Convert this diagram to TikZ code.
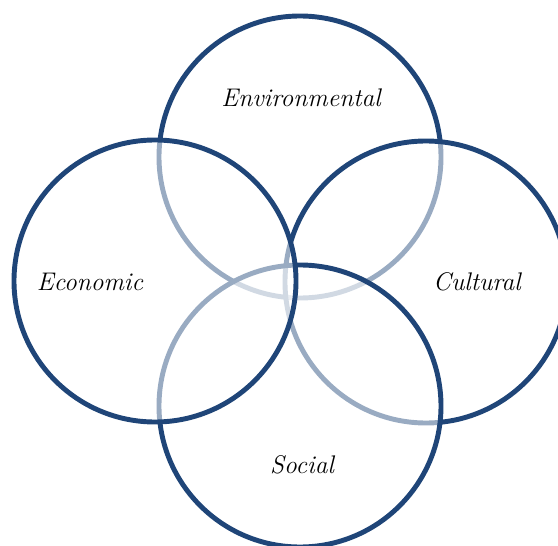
\documentclass[tikz,border=0pt]{standalone}
\usepackage{tikz}
\definecolor{ringblue}{RGB}{31,69,120}
\tikzset{
    ring/.style={
        circle,
        draw=ringblue,
        line width=2.8pt,
        fill=white,
        fill opacity=0.55,
        minimum size=5.64cm,
        inner sep=0pt
    },
    tag/.style={
        anchor=base,
        font=\itshape\fontsize{14.5}{17}\selectfont
    }
}

\begin{document}
\begin{tikzpicture}
    \useasboundingbox (0,0) rectangle (11.16,10.9);
    % Circles, back to front
    \node[ring] (env) at (6.00,7.76) {};
    \node[ring] (cul) at (8.52,5.26) {};
    \node[ring] (soc) at (6.00,2.78) {};
    \node[ring] (eco) at (3.10,5.28) {};

    % Labels
    \node[tag] (envtext) at (6.02,8.76) {Environmental};
    \node[tag] (ecotext) at (1.80,5.08) {Economic};
    \node[tag] (cultext) at (9.54,5.08) {Cultural};
    \node[tag] (soctext) at (6.04,1.44) {Social};
\end{tikzpicture}
\end{document}
